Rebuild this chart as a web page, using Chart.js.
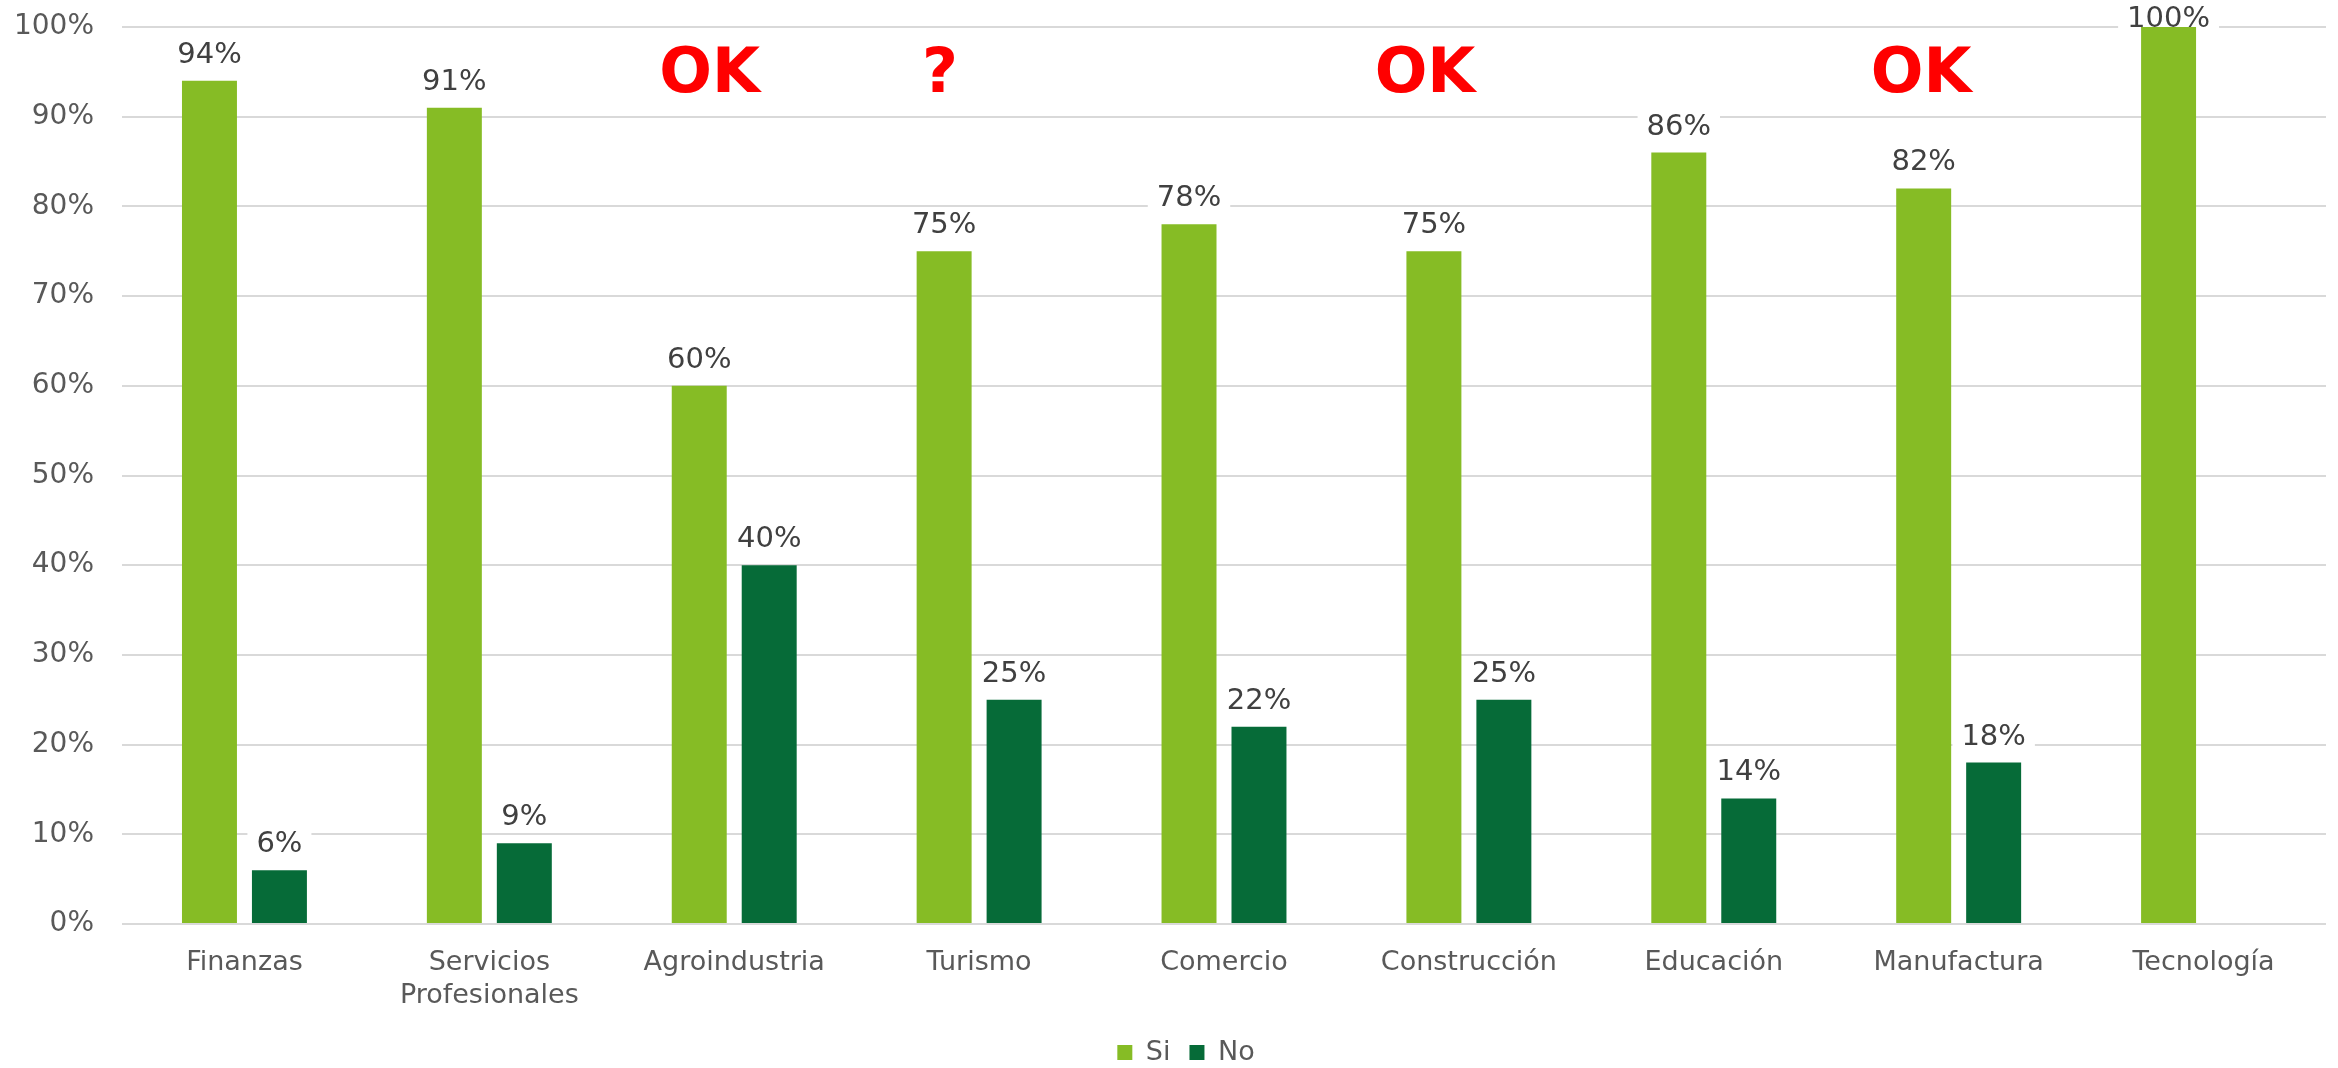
<!DOCTYPE html>
<html>
<head>
<meta charset="utf-8">
<script src="https://cdn.jsdelivr.net/npm/chart.js@4/dist/chart.umd.min.js"></script>
<style>
  html, body { margin: 0; padding: 0; background: #ffffff; }
  canvas { display: block; }
</style>
</head>
<body>
<canvas id="chart" width="2338" height="1068"></canvas>
<script>
// Sectors and share of answers per sector (percent)
const categories = ['Finanzas', ['Servicios', 'Profesionales'], 'Agroindustria', 'Turismo', 'Comercio', 'Construcción', 'Educación', 'Manufactura', 'Tecnología'];
const siValues = [94, 91, 60, 75, 78, 75, 86, 82, 100];
const noValues = [6, 9, 40, 25, 22, 25, 14, 18, null];
const seriesNames = ['Si', 'No'];
const yMax = 100;
const yStep = 10;
const noteTexts = ['OK', '?', 'OK', 'OK'];

const FONT = '"DejaVu Sans", Verdana, sans-serif';
Chart.defaults.font.family = FONT;

// Value labels sitting on a white plate above each bar
const valueLabels = {
  id: 'valueLabels',
  beforeDatasetsDraw(chart) {
    const ctx = chart.ctx;
    ctx.save();
    ctx.font = '29px ' + FONT;
    ctx.textAlign = 'center';
    ctx.textBaseline = 'alphabetic';
    chart.data.datasets.forEach((ds, di) => {
      const meta = chart.getDatasetMeta(di);
      meta.data.forEach((bar, i) => {
        const v = ds.data[i];
        if (v === null || v === undefined) return;
        const txt = v + '%';
        const w = ctx.measureText(txt).width;
        const base = Math.max(bar.y - 18, 27);
        ctx.fillStyle = '#ffffff';
        ctx.fillRect(bar.x - w / 2 - 9, base - 25, w + 18, 32);
        ctx.fillStyle = '#404040';
        ctx.fillText(txt, bar.x, base);
      });
    });
    ctx.restore();
  }
};

// Red remarks written across the top of the plot
const remarks = {
  id: 'remarks',
  afterDraw(chart) {
    const a = chart.chartArea;
    const xs = [0.2666, 0.3711, 0.5912, 0.8163];
    const ctx = chart.ctx;
    ctx.save();
    ctx.font = 'bold 62px ' + FONT;
    ctx.fillStyle = '#ff0000';
    ctx.textAlign = 'center';
    ctx.textBaseline = 'alphabetic';
    noteTexts.forEach((t, i) => {
      ctx.fillText(t, a.left + xs[i] * (a.right - a.left), a.top + 65);
    });
    ctx.restore();
  }
};

// Nudge the legend a little to the right of the canvas centre
const legendShift = {
  id: 'legendShift',
  afterLayout(chart) {
    if (chart.legend) {
      chart.legend.left += 16;
      chart.legend.right += 16;
    }
  }
};

new Chart(document.getElementById('chart'), {
  type: 'bar',
  data: {
    labels: categories,
    datasets: [
      { label: seriesNames[0], data: siValues, backgroundColor: '#86bc25',
        categoryPercentage: 0.5714, barPercentage: 0.7857 },
      { label: seriesNames[1], data: noValues, backgroundColor: '#066b38',
        categoryPercentage: 0.5714, barPercentage: 0.7857 }
    ]
  },
  options: {
    responsive: false,
    devicePixelRatio: 1,
    animation: false,
    layout: { padding: { left: 14, right: 12, top: 27, bottom: 0 } },
    plugins: {
      legend: {
        position: 'bottom',
        maxHeight: 48,
        labels: {
          font: { size: 27, family: FONT },
          color: '#595959',
          boxWidth: 15,
          boxHeight: 15,
          padding: 19
        }
      },
      tooltip: { enabled: false }
    },
    scales: {
      x: {
        grid: { display: false, drawTicks: false },
        border: { display: false },
        ticks: {
          font: { size: 27, family: FONT },
          color: '#595959',
          padding: 23,
          maxRotation: 0,
          autoSkip: false
        },
        afterFit(scale) {
          scale.height = 96;
          scale.paddingLeft = 0;
          scale.paddingRight = 0;
        }
      },
      y: {
        min: 0,
        max: yMax,
        grid: { color: '#d9d9d9', lineWidth: 2, drawTicks: false },
        border: { display: false },
        ticks: {
          stepSize: yStep,
          font: { size: 28, family: FONT },
          color: '#595959',
          padding: 28,
          callback: (v) => v + '%'
        },
        afterFit(scale) {
          scale.width = 108;
          scale.paddingTop = 0;
          scale.paddingBottom = 0;
        }
      }
    }
  },
  plugins: [valueLabels, remarks, legendShift]
});
</script>
</body>
</html>
